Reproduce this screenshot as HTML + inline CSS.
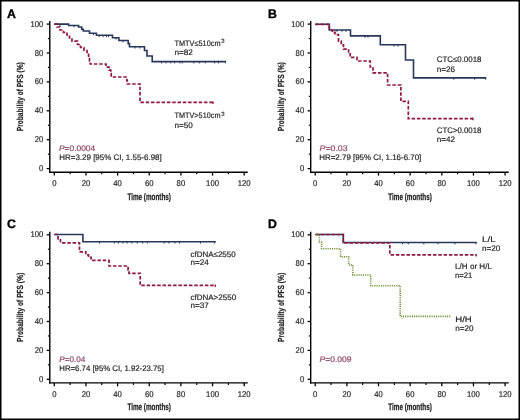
<!DOCTYPE html>
<html><head><meta charset="utf-8"><style>
html,body{margin:0;padding:0;background:#fff;width:520px;height:420px;overflow:hidden;position:relative;font-family:"Liberation Sans", sans-serif;}
svg{will-change:transform;text-rendering:geometricPrecision}
</style></head><body>
<svg width="520" height="420" viewBox="0 0 520 420" style="position:absolute;left:0;top:0">
<g font-family='"Liberation Sans", sans-serif'>
<g transform="translate(0,0)">
<text x="7.1" y="17.6" font-size="12.3" font-weight="bold" fill="#000" stroke="#000" stroke-width="0.35">A</text>
<line x1="49.8" y1="21" x2="49.8" y2="172.89999999999998" stroke="#000" stroke-width="1.4"/>
<line x1="49.0" y1="172.2" x2="247.8" y2="172.2" stroke="#000" stroke-width="1.4"/>
<line x1="46.7" y1="24.10" x2="49.8" y2="24.10" stroke="#000" stroke-width="1.3"/>
<text transform="translate(43.3,26.60) scale(0.92,1)" font-size="8.4" text-anchor="end" fill="#282828" stroke="#282828" stroke-width="0.2">100</text>
<line x1="47.9" y1="38.55" x2="49.8" y2="38.55" stroke="#000" stroke-width="1.2"/>
<line x1="46.7" y1="53.00" x2="49.8" y2="53.00" stroke="#000" stroke-width="1.3"/>
<text transform="translate(43.3,55.50) scale(0.92,1)" font-size="8.4" text-anchor="end" fill="#282828" stroke="#282828" stroke-width="0.2">80</text>
<line x1="47.9" y1="67.45" x2="49.8" y2="67.45" stroke="#000" stroke-width="1.2"/>
<line x1="46.7" y1="81.90" x2="49.8" y2="81.90" stroke="#000" stroke-width="1.3"/>
<text transform="translate(43.3,84.40) scale(0.92,1)" font-size="8.4" text-anchor="end" fill="#282828" stroke="#282828" stroke-width="0.2">60</text>
<line x1="47.9" y1="96.35" x2="49.8" y2="96.35" stroke="#000" stroke-width="1.2"/>
<line x1="46.7" y1="110.80" x2="49.8" y2="110.80" stroke="#000" stroke-width="1.3"/>
<text transform="translate(43.3,113.30) scale(0.92,1)" font-size="8.4" text-anchor="end" fill="#282828" stroke="#282828" stroke-width="0.2">40</text>
<line x1="47.9" y1="125.25" x2="49.8" y2="125.25" stroke="#000" stroke-width="1.2"/>
<line x1="46.7" y1="139.70" x2="49.8" y2="139.70" stroke="#000" stroke-width="1.3"/>
<text transform="translate(43.3,142.20) scale(0.92,1)" font-size="8.4" text-anchor="end" fill="#282828" stroke="#282828" stroke-width="0.2">20</text>
<line x1="47.9" y1="154.15" x2="49.8" y2="154.15" stroke="#000" stroke-width="1.2"/>
<line x1="46.7" y1="168.60" x2="49.8" y2="168.60" stroke="#000" stroke-width="1.3"/>
<text transform="translate(43.3,171.10) scale(0.92,1)" font-size="8.4" text-anchor="end" fill="#282828" stroke="#282828" stroke-width="0.2">0</text>
<line x1="54.30" y1="172.2" x2="54.30" y2="175.6" stroke="#000" stroke-width="1.3"/>
<text transform="translate(54.30,186) scale(0.92,1)" font-size="8.4" text-anchor="middle" fill="#282828" stroke="#282828" stroke-width="0.2">0</text>
<line x1="70.12" y1="172.2" x2="70.12" y2="174.2" stroke="#000" stroke-width="1.2"/>
<line x1="85.95" y1="172.2" x2="85.95" y2="175.6" stroke="#000" stroke-width="1.3"/>
<text transform="translate(85.95,186) scale(0.92,1)" font-size="8.4" text-anchor="middle" fill="#282828" stroke="#282828" stroke-width="0.2">20</text>
<line x1="101.77" y1="172.2" x2="101.77" y2="174.2" stroke="#000" stroke-width="1.2"/>
<line x1="117.60" y1="172.2" x2="117.60" y2="175.6" stroke="#000" stroke-width="1.3"/>
<text transform="translate(117.60,186) scale(0.92,1)" font-size="8.4" text-anchor="middle" fill="#282828" stroke="#282828" stroke-width="0.2">40</text>
<line x1="133.42" y1="172.2" x2="133.42" y2="174.2" stroke="#000" stroke-width="1.2"/>
<line x1="149.25" y1="172.2" x2="149.25" y2="175.6" stroke="#000" stroke-width="1.3"/>
<text transform="translate(149.25,186) scale(0.92,1)" font-size="8.4" text-anchor="middle" fill="#282828" stroke="#282828" stroke-width="0.2">60</text>
<line x1="165.07" y1="172.2" x2="165.07" y2="174.2" stroke="#000" stroke-width="1.2"/>
<line x1="180.90" y1="172.2" x2="180.90" y2="175.6" stroke="#000" stroke-width="1.3"/>
<text transform="translate(180.90,186) scale(0.92,1)" font-size="8.4" text-anchor="middle" fill="#282828" stroke="#282828" stroke-width="0.2">80</text>
<line x1="196.72" y1="172.2" x2="196.72" y2="174.2" stroke="#000" stroke-width="1.2"/>
<line x1="212.55" y1="172.2" x2="212.55" y2="175.6" stroke="#000" stroke-width="1.3"/>
<text transform="translate(212.55,186) scale(0.92,1)" font-size="8.4" text-anchor="middle" fill="#282828" stroke="#282828" stroke-width="0.2">100</text>
<line x1="228.38" y1="172.2" x2="228.38" y2="174.2" stroke="#000" stroke-width="1.2"/>
<line x1="244.20" y1="172.2" x2="244.20" y2="175.6" stroke="#000" stroke-width="1.3"/>
<text transform="translate(244.20,186) scale(0.92,1)" font-size="8.4" text-anchor="middle" fill="#282828" stroke="#282828" stroke-width="0.2">120</text>
<text transform="translate(22.7,96.7) rotate(-90)" font-size="8.8" font-weight="bold" text-anchor="middle" fill="#222" stroke="#222" stroke-width="0.2" textLength="69" lengthAdjust="spacingAndGlyphs">Probability of PFS (%)</text>
<text x="149.2" y="199.6" font-size="9.6" font-weight="bold" text-anchor="middle" fill="#222" stroke="#222" stroke-width="0.25" textLength="43.5" lengthAdjust="spacingAndGlyphs">Time (months)</text>
</g>
<g transform="translate(260.9,0)">
<text x="7.1" y="17.6" font-size="12.3" font-weight="bold" fill="#000" stroke="#000" stroke-width="0.35">B</text>
<line x1="49.8" y1="21" x2="49.8" y2="172.89999999999998" stroke="#000" stroke-width="1.4"/>
<line x1="49.0" y1="172.2" x2="247.8" y2="172.2" stroke="#000" stroke-width="1.4"/>
<line x1="46.7" y1="24.10" x2="49.8" y2="24.10" stroke="#000" stroke-width="1.3"/>
<text transform="translate(43.3,26.60) scale(0.92,1)" font-size="8.4" text-anchor="end" fill="#282828" stroke="#282828" stroke-width="0.2">100</text>
<line x1="47.9" y1="38.55" x2="49.8" y2="38.55" stroke="#000" stroke-width="1.2"/>
<line x1="46.7" y1="53.00" x2="49.8" y2="53.00" stroke="#000" stroke-width="1.3"/>
<text transform="translate(43.3,55.50) scale(0.92,1)" font-size="8.4" text-anchor="end" fill="#282828" stroke="#282828" stroke-width="0.2">80</text>
<line x1="47.9" y1="67.45" x2="49.8" y2="67.45" stroke="#000" stroke-width="1.2"/>
<line x1="46.7" y1="81.90" x2="49.8" y2="81.90" stroke="#000" stroke-width="1.3"/>
<text transform="translate(43.3,84.40) scale(0.92,1)" font-size="8.4" text-anchor="end" fill="#282828" stroke="#282828" stroke-width="0.2">60</text>
<line x1="47.9" y1="96.35" x2="49.8" y2="96.35" stroke="#000" stroke-width="1.2"/>
<line x1="46.7" y1="110.80" x2="49.8" y2="110.80" stroke="#000" stroke-width="1.3"/>
<text transform="translate(43.3,113.30) scale(0.92,1)" font-size="8.4" text-anchor="end" fill="#282828" stroke="#282828" stroke-width="0.2">40</text>
<line x1="47.9" y1="125.25" x2="49.8" y2="125.25" stroke="#000" stroke-width="1.2"/>
<line x1="46.7" y1="139.70" x2="49.8" y2="139.70" stroke="#000" stroke-width="1.3"/>
<text transform="translate(43.3,142.20) scale(0.92,1)" font-size="8.4" text-anchor="end" fill="#282828" stroke="#282828" stroke-width="0.2">20</text>
<line x1="47.9" y1="154.15" x2="49.8" y2="154.15" stroke="#000" stroke-width="1.2"/>
<line x1="46.7" y1="168.60" x2="49.8" y2="168.60" stroke="#000" stroke-width="1.3"/>
<text transform="translate(43.3,171.10) scale(0.92,1)" font-size="8.4" text-anchor="end" fill="#282828" stroke="#282828" stroke-width="0.2">0</text>
<line x1="54.30" y1="172.2" x2="54.30" y2="175.6" stroke="#000" stroke-width="1.3"/>
<text transform="translate(54.30,186) scale(0.92,1)" font-size="8.4" text-anchor="middle" fill="#282828" stroke="#282828" stroke-width="0.2">0</text>
<line x1="70.12" y1="172.2" x2="70.12" y2="174.2" stroke="#000" stroke-width="1.2"/>
<line x1="85.95" y1="172.2" x2="85.95" y2="175.6" stroke="#000" stroke-width="1.3"/>
<text transform="translate(85.95,186) scale(0.92,1)" font-size="8.4" text-anchor="middle" fill="#282828" stroke="#282828" stroke-width="0.2">20</text>
<line x1="101.77" y1="172.2" x2="101.77" y2="174.2" stroke="#000" stroke-width="1.2"/>
<line x1="117.60" y1="172.2" x2="117.60" y2="175.6" stroke="#000" stroke-width="1.3"/>
<text transform="translate(117.60,186) scale(0.92,1)" font-size="8.4" text-anchor="middle" fill="#282828" stroke="#282828" stroke-width="0.2">40</text>
<line x1="133.42" y1="172.2" x2="133.42" y2="174.2" stroke="#000" stroke-width="1.2"/>
<line x1="149.25" y1="172.2" x2="149.25" y2="175.6" stroke="#000" stroke-width="1.3"/>
<text transform="translate(149.25,186) scale(0.92,1)" font-size="8.4" text-anchor="middle" fill="#282828" stroke="#282828" stroke-width="0.2">60</text>
<line x1="165.07" y1="172.2" x2="165.07" y2="174.2" stroke="#000" stroke-width="1.2"/>
<line x1="180.90" y1="172.2" x2="180.90" y2="175.6" stroke="#000" stroke-width="1.3"/>
<text transform="translate(180.90,186) scale(0.92,1)" font-size="8.4" text-anchor="middle" fill="#282828" stroke="#282828" stroke-width="0.2">80</text>
<line x1="196.72" y1="172.2" x2="196.72" y2="174.2" stroke="#000" stroke-width="1.2"/>
<line x1="212.55" y1="172.2" x2="212.55" y2="175.6" stroke="#000" stroke-width="1.3"/>
<text transform="translate(212.55,186) scale(0.92,1)" font-size="8.4" text-anchor="middle" fill="#282828" stroke="#282828" stroke-width="0.2">100</text>
<line x1="228.38" y1="172.2" x2="228.38" y2="174.2" stroke="#000" stroke-width="1.2"/>
<line x1="244.20" y1="172.2" x2="244.20" y2="175.6" stroke="#000" stroke-width="1.3"/>
<text transform="translate(244.20,186) scale(0.92,1)" font-size="8.4" text-anchor="middle" fill="#282828" stroke="#282828" stroke-width="0.2">120</text>
<text transform="translate(22.7,96.7) rotate(-90)" font-size="8.8" font-weight="bold" text-anchor="middle" fill="#222" stroke="#222" stroke-width="0.2" textLength="69" lengthAdjust="spacingAndGlyphs">Probability of PFS (%)</text>
<text x="149.2" y="199.6" font-size="9.6" font-weight="bold" text-anchor="middle" fill="#222" stroke="#222" stroke-width="0.25" textLength="43.5" lengthAdjust="spacingAndGlyphs">Time (months)</text>
</g>
<g transform="translate(0,210.7)">
<text x="7.1" y="17.6" font-size="12.3" font-weight="bold" fill="#000" stroke="#000" stroke-width="0.35">C</text>
<line x1="49.8" y1="21" x2="49.8" y2="172.89999999999998" stroke="#000" stroke-width="1.4"/>
<line x1="49.0" y1="172.2" x2="247.8" y2="172.2" stroke="#000" stroke-width="1.4"/>
<line x1="46.7" y1="24.10" x2="49.8" y2="24.10" stroke="#000" stroke-width="1.3"/>
<text transform="translate(43.3,26.60) scale(0.92,1)" font-size="8.4" text-anchor="end" fill="#282828" stroke="#282828" stroke-width="0.2">100</text>
<line x1="47.9" y1="38.55" x2="49.8" y2="38.55" stroke="#000" stroke-width="1.2"/>
<line x1="46.7" y1="53.00" x2="49.8" y2="53.00" stroke="#000" stroke-width="1.3"/>
<text transform="translate(43.3,55.50) scale(0.92,1)" font-size="8.4" text-anchor="end" fill="#282828" stroke="#282828" stroke-width="0.2">80</text>
<line x1="47.9" y1="67.45" x2="49.8" y2="67.45" stroke="#000" stroke-width="1.2"/>
<line x1="46.7" y1="81.90" x2="49.8" y2="81.90" stroke="#000" stroke-width="1.3"/>
<text transform="translate(43.3,84.40) scale(0.92,1)" font-size="8.4" text-anchor="end" fill="#282828" stroke="#282828" stroke-width="0.2">60</text>
<line x1="47.9" y1="96.35" x2="49.8" y2="96.35" stroke="#000" stroke-width="1.2"/>
<line x1="46.7" y1="110.80" x2="49.8" y2="110.80" stroke="#000" stroke-width="1.3"/>
<text transform="translate(43.3,113.30) scale(0.92,1)" font-size="8.4" text-anchor="end" fill="#282828" stroke="#282828" stroke-width="0.2">40</text>
<line x1="47.9" y1="125.25" x2="49.8" y2="125.25" stroke="#000" stroke-width="1.2"/>
<line x1="46.7" y1="139.70" x2="49.8" y2="139.70" stroke="#000" stroke-width="1.3"/>
<text transform="translate(43.3,142.20) scale(0.92,1)" font-size="8.4" text-anchor="end" fill="#282828" stroke="#282828" stroke-width="0.2">20</text>
<line x1="47.9" y1="154.15" x2="49.8" y2="154.15" stroke="#000" stroke-width="1.2"/>
<line x1="46.7" y1="168.60" x2="49.8" y2="168.60" stroke="#000" stroke-width="1.3"/>
<text transform="translate(43.3,171.10) scale(0.92,1)" font-size="8.4" text-anchor="end" fill="#282828" stroke="#282828" stroke-width="0.2">0</text>
<line x1="54.30" y1="172.2" x2="54.30" y2="175.6" stroke="#000" stroke-width="1.3"/>
<text transform="translate(54.30,186) scale(0.92,1)" font-size="8.4" text-anchor="middle" fill="#282828" stroke="#282828" stroke-width="0.2">0</text>
<line x1="70.12" y1="172.2" x2="70.12" y2="174.2" stroke="#000" stroke-width="1.2"/>
<line x1="85.95" y1="172.2" x2="85.95" y2="175.6" stroke="#000" stroke-width="1.3"/>
<text transform="translate(85.95,186) scale(0.92,1)" font-size="8.4" text-anchor="middle" fill="#282828" stroke="#282828" stroke-width="0.2">20</text>
<line x1="101.77" y1="172.2" x2="101.77" y2="174.2" stroke="#000" stroke-width="1.2"/>
<line x1="117.60" y1="172.2" x2="117.60" y2="175.6" stroke="#000" stroke-width="1.3"/>
<text transform="translate(117.60,186) scale(0.92,1)" font-size="8.4" text-anchor="middle" fill="#282828" stroke="#282828" stroke-width="0.2">40</text>
<line x1="133.42" y1="172.2" x2="133.42" y2="174.2" stroke="#000" stroke-width="1.2"/>
<line x1="149.25" y1="172.2" x2="149.25" y2="175.6" stroke="#000" stroke-width="1.3"/>
<text transform="translate(149.25,186) scale(0.92,1)" font-size="8.4" text-anchor="middle" fill="#282828" stroke="#282828" stroke-width="0.2">60</text>
<line x1="165.07" y1="172.2" x2="165.07" y2="174.2" stroke="#000" stroke-width="1.2"/>
<line x1="180.90" y1="172.2" x2="180.90" y2="175.6" stroke="#000" stroke-width="1.3"/>
<text transform="translate(180.90,186) scale(0.92,1)" font-size="8.4" text-anchor="middle" fill="#282828" stroke="#282828" stroke-width="0.2">80</text>
<line x1="196.72" y1="172.2" x2="196.72" y2="174.2" stroke="#000" stroke-width="1.2"/>
<line x1="212.55" y1="172.2" x2="212.55" y2="175.6" stroke="#000" stroke-width="1.3"/>
<text transform="translate(212.55,186) scale(0.92,1)" font-size="8.4" text-anchor="middle" fill="#282828" stroke="#282828" stroke-width="0.2">100</text>
<line x1="228.38" y1="172.2" x2="228.38" y2="174.2" stroke="#000" stroke-width="1.2"/>
<line x1="244.20" y1="172.2" x2="244.20" y2="175.6" stroke="#000" stroke-width="1.3"/>
<text transform="translate(244.20,186) scale(0.92,1)" font-size="8.4" text-anchor="middle" fill="#282828" stroke="#282828" stroke-width="0.2">120</text>
<text transform="translate(22.7,96.7) rotate(-90)" font-size="8.8" font-weight="bold" text-anchor="middle" fill="#222" stroke="#222" stroke-width="0.2" textLength="69" lengthAdjust="spacingAndGlyphs">Probability of PFS (%)</text>
<text x="149.2" y="199.6" font-size="9.6" font-weight="bold" text-anchor="middle" fill="#222" stroke="#222" stroke-width="0.25" textLength="43.5" lengthAdjust="spacingAndGlyphs">Time (months)</text>
</g>
<g transform="translate(260.9,210.7)">
<text x="7.1" y="17.6" font-size="12.3" font-weight="bold" fill="#000" stroke="#000" stroke-width="0.35">D</text>
<line x1="49.8" y1="21" x2="49.8" y2="172.89999999999998" stroke="#000" stroke-width="1.4"/>
<line x1="49.0" y1="172.2" x2="247.8" y2="172.2" stroke="#000" stroke-width="1.4"/>
<line x1="46.7" y1="24.10" x2="49.8" y2="24.10" stroke="#000" stroke-width="1.3"/>
<text transform="translate(43.3,26.60) scale(0.92,1)" font-size="8.4" text-anchor="end" fill="#282828" stroke="#282828" stroke-width="0.2">100</text>
<line x1="47.9" y1="38.55" x2="49.8" y2="38.55" stroke="#000" stroke-width="1.2"/>
<line x1="46.7" y1="53.00" x2="49.8" y2="53.00" stroke="#000" stroke-width="1.3"/>
<text transform="translate(43.3,55.50) scale(0.92,1)" font-size="8.4" text-anchor="end" fill="#282828" stroke="#282828" stroke-width="0.2">80</text>
<line x1="47.9" y1="67.45" x2="49.8" y2="67.45" stroke="#000" stroke-width="1.2"/>
<line x1="46.7" y1="81.90" x2="49.8" y2="81.90" stroke="#000" stroke-width="1.3"/>
<text transform="translate(43.3,84.40) scale(0.92,1)" font-size="8.4" text-anchor="end" fill="#282828" stroke="#282828" stroke-width="0.2">60</text>
<line x1="47.9" y1="96.35" x2="49.8" y2="96.35" stroke="#000" stroke-width="1.2"/>
<line x1="46.7" y1="110.80" x2="49.8" y2="110.80" stroke="#000" stroke-width="1.3"/>
<text transform="translate(43.3,113.30) scale(0.92,1)" font-size="8.4" text-anchor="end" fill="#282828" stroke="#282828" stroke-width="0.2">40</text>
<line x1="47.9" y1="125.25" x2="49.8" y2="125.25" stroke="#000" stroke-width="1.2"/>
<line x1="46.7" y1="139.70" x2="49.8" y2="139.70" stroke="#000" stroke-width="1.3"/>
<text transform="translate(43.3,142.20) scale(0.92,1)" font-size="8.4" text-anchor="end" fill="#282828" stroke="#282828" stroke-width="0.2">20</text>
<line x1="47.9" y1="154.15" x2="49.8" y2="154.15" stroke="#000" stroke-width="1.2"/>
<line x1="46.7" y1="168.60" x2="49.8" y2="168.60" stroke="#000" stroke-width="1.3"/>
<text transform="translate(43.3,171.10) scale(0.92,1)" font-size="8.4" text-anchor="end" fill="#282828" stroke="#282828" stroke-width="0.2">0</text>
<line x1="54.30" y1="172.2" x2="54.30" y2="175.6" stroke="#000" stroke-width="1.3"/>
<text transform="translate(54.30,186) scale(0.92,1)" font-size="8.4" text-anchor="middle" fill="#282828" stroke="#282828" stroke-width="0.2">0</text>
<line x1="70.12" y1="172.2" x2="70.12" y2="174.2" stroke="#000" stroke-width="1.2"/>
<line x1="85.95" y1="172.2" x2="85.95" y2="175.6" stroke="#000" stroke-width="1.3"/>
<text transform="translate(85.95,186) scale(0.92,1)" font-size="8.4" text-anchor="middle" fill="#282828" stroke="#282828" stroke-width="0.2">20</text>
<line x1="101.77" y1="172.2" x2="101.77" y2="174.2" stroke="#000" stroke-width="1.2"/>
<line x1="117.60" y1="172.2" x2="117.60" y2="175.6" stroke="#000" stroke-width="1.3"/>
<text transform="translate(117.60,186) scale(0.92,1)" font-size="8.4" text-anchor="middle" fill="#282828" stroke="#282828" stroke-width="0.2">40</text>
<line x1="133.42" y1="172.2" x2="133.42" y2="174.2" stroke="#000" stroke-width="1.2"/>
<line x1="149.25" y1="172.2" x2="149.25" y2="175.6" stroke="#000" stroke-width="1.3"/>
<text transform="translate(149.25,186) scale(0.92,1)" font-size="8.4" text-anchor="middle" fill="#282828" stroke="#282828" stroke-width="0.2">60</text>
<line x1="165.07" y1="172.2" x2="165.07" y2="174.2" stroke="#000" stroke-width="1.2"/>
<line x1="180.90" y1="172.2" x2="180.90" y2="175.6" stroke="#000" stroke-width="1.3"/>
<text transform="translate(180.90,186) scale(0.92,1)" font-size="8.4" text-anchor="middle" fill="#282828" stroke="#282828" stroke-width="0.2">80</text>
<line x1="196.72" y1="172.2" x2="196.72" y2="174.2" stroke="#000" stroke-width="1.2"/>
<line x1="212.55" y1="172.2" x2="212.55" y2="175.6" stroke="#000" stroke-width="1.3"/>
<text transform="translate(212.55,186) scale(0.92,1)" font-size="8.4" text-anchor="middle" fill="#282828" stroke="#282828" stroke-width="0.2">100</text>
<line x1="228.38" y1="172.2" x2="228.38" y2="174.2" stroke="#000" stroke-width="1.2"/>
<line x1="244.20" y1="172.2" x2="244.20" y2="175.6" stroke="#000" stroke-width="1.3"/>
<text transform="translate(244.20,186) scale(0.92,1)" font-size="8.4" text-anchor="middle" fill="#282828" stroke="#282828" stroke-width="0.2">120</text>
<text transform="translate(22.7,96.7) rotate(-90)" font-size="8.8" font-weight="bold" text-anchor="middle" fill="#222" stroke="#222" stroke-width="0.2" textLength="69" lengthAdjust="spacingAndGlyphs">Probability of PFS (%)</text>
<text x="149.2" y="199.6" font-size="9.6" font-weight="bold" text-anchor="middle" fill="#222" stroke="#222" stroke-width="0.25" textLength="43.5" lengthAdjust="spacingAndGlyphs">Time (months)</text>
</g>
<polyline points="54.30,24.10 68.60,24.10 68.60,25.50 78.60,25.50 78.60,27.00 81.70,27.00 81.70,29.20 83.30,29.20 83.30,31.00 89.50,31.00 89.50,33.30 96.40,33.30 96.40,35.30 112.50,35.30 112.50,37.70 118.90,37.70 118.90,40.50 128.20,40.50 128.20,43.60 129.50,43.60 129.50,46.70 144.50,46.70 144.50,50.50 147.00,50.50 147.00,56.00 152.20,56.00 152.20,61.60 226.00,61.60" fill="none" stroke="#26375a" stroke-width="1.6" stroke-linejoin="miter" stroke-linecap="butt"/>
<line x1="60" y1="24.1" x2="60" y2="25.900000000000002" stroke="#26375a" stroke-width="1.0"/>
<line x1="74" y1="25.5" x2="74" y2="27.3" stroke="#26375a" stroke-width="1.0"/>
<line x1="93.5" y1="33.3" x2="93.5" y2="35.099999999999994" stroke="#26375a" stroke-width="1.0"/>
<line x1="99.2" y1="35.3" x2="99.2" y2="37.099999999999994" stroke="#26375a" stroke-width="1.0"/>
<line x1="103" y1="35.3" x2="103" y2="37.099999999999994" stroke="#26375a" stroke-width="1.0"/>
<line x1="106.5" y1="35.3" x2="106.5" y2="37.099999999999994" stroke="#26375a" stroke-width="1.0"/>
<line x1="108.5" y1="35.3" x2="108.5" y2="37.099999999999994" stroke="#26375a" stroke-width="1.0"/>
<line x1="116" y1="37.7" x2="116" y2="39.5" stroke="#26375a" stroke-width="1.0"/>
<line x1="123" y1="40.5" x2="123" y2="42.3" stroke="#26375a" stroke-width="1.0"/>
<line x1="135" y1="46.7" x2="135" y2="48.5" stroke="#26375a" stroke-width="1.0"/>
<line x1="140" y1="46.7" x2="140" y2="48.5" stroke="#26375a" stroke-width="1.0"/>
<line x1="161.5" y1="61.6" x2="161.5" y2="63.4" stroke="#26375a" stroke-width="1.0"/>
<line x1="166" y1="61.6" x2="166" y2="63.4" stroke="#26375a" stroke-width="1.0"/>
<line x1="170.8" y1="61.6" x2="170.8" y2="63.4" stroke="#26375a" stroke-width="1.0"/>
<line x1="174.6" y1="61.6" x2="174.6" y2="63.4" stroke="#26375a" stroke-width="1.0"/>
<line x1="180" y1="61.6" x2="180" y2="63.4" stroke="#26375a" stroke-width="1.0"/>
<line x1="182.3" y1="61.6" x2="182.3" y2="63.4" stroke="#26375a" stroke-width="1.0"/>
<line x1="193.8" y1="61.6" x2="193.8" y2="63.4" stroke="#26375a" stroke-width="1.0"/>
<line x1="199.2" y1="61.6" x2="199.2" y2="63.4" stroke="#26375a" stroke-width="1.0"/>
<line x1="205.4" y1="61.6" x2="205.4" y2="63.4" stroke="#26375a" stroke-width="1.0"/>
<line x1="214.6" y1="61.6" x2="214.6" y2="63.4" stroke="#26375a" stroke-width="1.0"/>
<line x1="218.5" y1="61.6" x2="218.5" y2="63.4" stroke="#26375a" stroke-width="1.0"/>
<line x1="225.4" y1="61.6" x2="225.4" y2="63.4" stroke="#26375a" stroke-width="1.0"/>
<polyline points="54.30,24.10 57.00,24.10 57.00,27.00 60.00,27.00 60.00,30.00 63.50,30.00 63.50,32.50 67.00,32.50 67.00,35.00 69.50,35.00 69.50,38.00 72.00,38.00 72.00,41.20 77.50,41.20 77.50,44.50 80.50,44.50 80.50,47.50 84.00,47.50 84.00,50.50 87.00,50.50 87.00,53.30 88.60,53.30 88.60,57.20 89.50,57.20 89.50,61.00 90.20,61.00 90.20,64.00 106.00,64.00 106.00,67.20 109.00,67.20 109.00,70.20 110.80,70.20 110.80,73.60 111.20,73.60 111.20,77.00 126.80,77.00 126.80,80.70 127.30,80.70 127.30,84.00 140.00,84.00 140.00,102.30 213.70,102.30" fill="none" stroke="#8e1743" stroke-width="1.7" stroke-dasharray="3.5,1.8" stroke-linecap="butt"/>
<line x1="213" y1="101.5" x2="213" y2="104" stroke="#8e1743" stroke-width="1.3"/>
<polyline points="315.20,24.30 329.30,24.30 329.30,30.00 350.50,30.00 350.50,35.90 380.30,35.90 380.30,44.80 405.50,44.80 405.50,60.00 413.50,60.00 413.50,77.90 486.20,77.90" fill="none" stroke="#26375a" stroke-width="1.6" stroke-linejoin="miter" stroke-linecap="butt"/>
<line x1="337" y1="30" x2="337" y2="31.8" stroke="#26375a" stroke-width="1.0"/>
<line x1="342" y1="30" x2="342" y2="31.8" stroke="#26375a" stroke-width="1.0"/>
<line x1="346" y1="30" x2="346" y2="31.8" stroke="#26375a" stroke-width="1.0"/>
<line x1="365" y1="35.9" x2="365" y2="37.699999999999996" stroke="#26375a" stroke-width="1.0"/>
<line x1="368" y1="35.9" x2="368" y2="37.699999999999996" stroke="#26375a" stroke-width="1.0"/>
<line x1="394" y1="44.8" x2="394" y2="46.599999999999994" stroke="#26375a" stroke-width="1.0"/>
<line x1="398" y1="44.8" x2="398" y2="46.599999999999994" stroke="#26375a" stroke-width="1.0"/>
<line x1="453.8" y1="77.9" x2="453.8" y2="79.7" stroke="#26375a" stroke-width="1.0"/>
<line x1="474.6" y1="77.9" x2="474.6" y2="79.7" stroke="#26375a" stroke-width="1.0"/>
<line x1="485.6" y1="77.9" x2="485.6" y2="79.7" stroke="#26375a" stroke-width="1.0"/>
<polyline points="315.20,24.30 329.30,24.30 329.30,30.00 332.30,30.00 332.30,32.40 335.00,32.40 335.00,34.60 338.50,34.60 338.50,41.20 341.20,41.20 341.20,44.80 343.50,44.80 343.50,49.20 348.60,49.20 348.60,52.90 350.20,52.90 350.20,57.40 357.00,57.40 357.00,61.00 370.20,61.00 370.20,67.00 373.00,67.00 373.00,72.80 387.60,72.80 387.60,85.00 400.90,85.00 400.90,101.40 408.30,101.40 408.30,118.70 473.40,118.70" fill="none" stroke="#8e1743" stroke-width="1.7" stroke-dasharray="3.5,1.8" stroke-linecap="butt"/>
<line x1="472.8" y1="117.8" x2="472.8" y2="120.3" stroke="#8e1743" stroke-width="1.3"/>
<polyline points="54.40,234.50 82.90,234.50 82.90,241.70 215.80,241.70" fill="none" stroke="#26375a" stroke-width="1.6" stroke-linejoin="miter" stroke-linecap="butt"/>
<line x1="99.5" y1="241.7" x2="99.5" y2="243.5" stroke="#26375a" stroke-width="1.0"/>
<line x1="114.3" y1="241.7" x2="114.3" y2="243.5" stroke="#26375a" stroke-width="1.0"/>
<line x1="118.4" y1="241.7" x2="118.4" y2="243.5" stroke="#26375a" stroke-width="1.0"/>
<line x1="123" y1="241.7" x2="123" y2="243.5" stroke="#26375a" stroke-width="1.0"/>
<line x1="127.1" y1="241.7" x2="127.1" y2="243.5" stroke="#26375a" stroke-width="1.0"/>
<line x1="131.8" y1="241.7" x2="131.8" y2="243.5" stroke="#26375a" stroke-width="1.0"/>
<line x1="137.2" y1="241.7" x2="137.2" y2="243.5" stroke="#26375a" stroke-width="1.0"/>
<line x1="142.6" y1="241.7" x2="142.6" y2="243.5" stroke="#26375a" stroke-width="1.0"/>
<line x1="147.3" y1="241.7" x2="147.3" y2="243.5" stroke="#26375a" stroke-width="1.0"/>
<line x1="164.2" y1="241.7" x2="164.2" y2="243.5" stroke="#26375a" stroke-width="1.0"/>
<line x1="168.9" y1="241.7" x2="168.9" y2="243.5" stroke="#26375a" stroke-width="1.0"/>
<line x1="174.9" y1="241.7" x2="174.9" y2="243.5" stroke="#26375a" stroke-width="1.0"/>
<line x1="179.6" y1="241.7" x2="179.6" y2="243.5" stroke="#26375a" stroke-width="1.0"/>
<line x1="200.5" y1="241.7" x2="200.5" y2="243.5" stroke="#26375a" stroke-width="1.0"/>
<line x1="214.6" y1="241.7" x2="214.6" y2="243.5" stroke="#26375a" stroke-width="1.0"/>
<polyline points="54.40,234.50 58.10,234.50 58.10,238.80 60.50,238.80 60.50,242.80 79.50,242.80 79.50,251.80 85.80,251.80 85.80,254.80 88.50,254.80 88.50,257.30 91.10,257.30 91.10,260.40 109.00,260.40 109.00,266.00 128.10,266.00 128.10,270.00 129.00,270.00 129.00,273.30 140.20,273.30 140.20,285.40 215.80,285.40" fill="none" stroke="#8e1743" stroke-width="1.7" stroke-dasharray="3.5,1.8" stroke-linecap="butt"/>
<line x1="215.2" y1="284.6" x2="215.2" y2="287.1" stroke="#8e1743" stroke-width="1.3"/>
<polyline points="315.50,234.50 343.30,234.50 343.30,242.50 476.80,242.50" fill="none" stroke="#26375a" stroke-width="1.6" stroke-linejoin="miter" stroke-linecap="butt"/>
<line x1="402.5" y1="242.5" x2="402.5" y2="244.3" stroke="#26375a" stroke-width="1.0"/>
<line x1="408.3" y1="242.5" x2="408.3" y2="244.3" stroke="#26375a" stroke-width="1.0"/>
<line x1="423.8" y1="242.5" x2="423.8" y2="244.3" stroke="#26375a" stroke-width="1.0"/>
<line x1="438" y1="242.5" x2="438" y2="244.3" stroke="#26375a" stroke-width="1.0"/>
<line x1="455" y1="242.5" x2="455" y2="244.3" stroke="#26375a" stroke-width="1.0"/>
<line x1="476" y1="242.5" x2="476" y2="244.3" stroke="#26375a" stroke-width="1.0"/>
<polyline points="315.50,234.50 343.30,234.50 343.30,242.80 389.80,242.80 389.80,254.80 476.80,254.80" fill="none" stroke="#8e1743" stroke-width="1.7" stroke-dasharray="3.5,1.8" stroke-linecap="butt"/>
<line x1="476.2" y1="254" x2="476.2" y2="256.5" stroke="#8e1743" stroke-width="1.3"/>
<polyline points="315.50,234.50 319.40,234.50 319.40,242.00 321.60,242.00 321.60,248.80 340.60,248.80 340.60,256.70 348.70,256.70 348.70,265.00 352.90,265.00 352.90,275.00 370.70,275.00 370.70,285.70 400.20,285.70 400.20,316.40 451.30,316.40" fill="none" stroke="#6a8e2c" stroke-width="1.6" stroke-dasharray="1.1,1.1" stroke-linecap="butt"/>
<text x="174.5" y="45.5" font-size="8" fill="#282828" text-anchor="start" textLength="46" lengthAdjust="spacingAndGlyphs" stroke="#282828" stroke-width="0.2" >TMTV≤510cm</text>
<text x="221.2" y="43.4" font-size="6" fill="#282828" stroke="#282828" stroke-width="0.15">3</text>
<text x="174.5" y="55.0" font-size="8" fill="#282828" text-anchor="start" textLength="18.3" lengthAdjust="spacingAndGlyphs" stroke="#282828" stroke-width="0.2" >n=82</text>
<text x="174.5" y="118.2" font-size="8" fill="#282828" text-anchor="start" textLength="46" lengthAdjust="spacingAndGlyphs" stroke="#282828" stroke-width="0.2" >TMTV&gt;510cm</text>
<text x="221.2" y="116.1" font-size="6" fill="#282828" stroke="#282828" stroke-width="0.15">3</text>
<text x="174.5" y="127.6" font-size="8" fill="#282828" text-anchor="start" textLength="18.3" lengthAdjust="spacingAndGlyphs" stroke="#282828" stroke-width="0.2" >n=50</text>
<text x="59.0" y="150.9" font-size="8" fill="#8e4668" text-anchor="start" textLength="36.2" lengthAdjust="spacingAndGlyphs" stroke="#8e4668" stroke-width="0.2" ><tspan font-style="italic">P</tspan>=0.0004</text>
<text x="59.3" y="160.1" font-size="8" fill="#282828" text-anchor="start" textLength="102.4" lengthAdjust="spacingAndGlyphs" stroke="#282828" stroke-width="0.2" >HR=3.29 [95% CI, 1.55-6.98]</text>
<text x="436.8" y="62.2" font-size="8" fill="#282828" text-anchor="start" textLength="44.6" lengthAdjust="spacingAndGlyphs" stroke="#282828" stroke-width="0.2" >CTC≤0.0018</text>
<text x="436.8" y="71.5" font-size="8" fill="#282828" text-anchor="start" textLength="18.3" lengthAdjust="spacingAndGlyphs" stroke="#282828" stroke-width="0.2" >n=26</text>
<text x="436.8" y="133.4" font-size="8" fill="#282828" text-anchor="start" textLength="44.6" lengthAdjust="spacingAndGlyphs" stroke="#282828" stroke-width="0.2" >CTC&gt;0.0018</text>
<text x="436.8" y="142.0" font-size="8" fill="#282828" text-anchor="start" textLength="18.3" lengthAdjust="spacingAndGlyphs" stroke="#282828" stroke-width="0.2" >n=42</text>
<text x="319.6" y="150.7" font-size="8" fill="#8e4668" text-anchor="start" textLength="28" lengthAdjust="spacingAndGlyphs" stroke="#8e4668" stroke-width="0.2" ><tspan font-style="italic">P</tspan>=0.03</text>
<text x="319.3" y="159.9" font-size="8" fill="#282828" text-anchor="start" textLength="102" lengthAdjust="spacingAndGlyphs" stroke="#282828" stroke-width="0.2" >HR=2.79 [95% CI, 1.16-6.70]</text>
<text x="190.5" y="256.5" font-size="8" fill="#282828" text-anchor="start" textLength="45.2" lengthAdjust="spacingAndGlyphs" stroke="#282828" stroke-width="0.2" >cfDNA≤2550</text>
<text x="190.5" y="265.3" font-size="8" fill="#282828" text-anchor="start" textLength="18.3" lengthAdjust="spacingAndGlyphs" stroke="#282828" stroke-width="0.2" >n=24</text>
<text x="190.5" y="299.5" font-size="8" fill="#282828" text-anchor="start" textLength="45.6" lengthAdjust="spacingAndGlyphs" stroke="#282828" stroke-width="0.2" >cfDNA&gt;2550</text>
<text x="190.5" y="308.3" font-size="8" fill="#282828" text-anchor="start" textLength="18.3" lengthAdjust="spacingAndGlyphs" stroke="#282828" stroke-width="0.2" >n=37</text>
<text x="59.3" y="361.7" font-size="8" fill="#8e4668" text-anchor="start" textLength="26" lengthAdjust="spacingAndGlyphs" stroke="#8e4668" stroke-width="0.2" ><tspan font-style="italic">P</tspan>=0.04</text>
<text x="59.3" y="370.9" font-size="8" fill="#282828" text-anchor="start" textLength="104.5" lengthAdjust="spacingAndGlyphs" stroke="#282828" stroke-width="0.2" >HR=6.74 [95% CI, 1.92-23.75]</text>
<text x="482.1" y="241.8" font-size="8" fill="#282828" text-anchor="start" textLength="13.5" lengthAdjust="spacingAndGlyphs" stroke="#282828" stroke-width="0.2" >L/L</text>
<text x="482.1" y="250.7" font-size="8" fill="#282828" text-anchor="start" textLength="18.3" lengthAdjust="spacingAndGlyphs" stroke="#282828" stroke-width="0.2" >n=20</text>
<text x="455.0" y="268.8" font-size="8" fill="#282828" text-anchor="start" textLength="37" lengthAdjust="spacingAndGlyphs" stroke="#282828" stroke-width="0.2" >L/H or H/L</text>
<text x="455.0" y="277.9" font-size="8" fill="#282828" text-anchor="start" textLength="17.3" lengthAdjust="spacingAndGlyphs" stroke="#282828" stroke-width="0.2" >n=21</text>
<text x="455.3" y="321.6" font-size="8" fill="#282828" text-anchor="start" textLength="16.5" lengthAdjust="spacingAndGlyphs" stroke="#282828" stroke-width="0.2" >H/H</text>
<text x="455.3" y="330.6" font-size="8" fill="#282828" text-anchor="start" textLength="18.3" lengthAdjust="spacingAndGlyphs" stroke="#282828" stroke-width="0.2" >n=20</text>
<text x="319.5" y="362.0" font-size="8" fill="#8e4668" text-anchor="start" textLength="32" lengthAdjust="spacingAndGlyphs" stroke="#8e4668" stroke-width="0.2" ><tspan font-style="italic">P</tspan>=0.009</text>
</g>
<rect x="0.75" y="0.75" width="518.5" height="418.5" fill="none" stroke="#000" stroke-width="1.5"/>
</svg>
</body></html>
